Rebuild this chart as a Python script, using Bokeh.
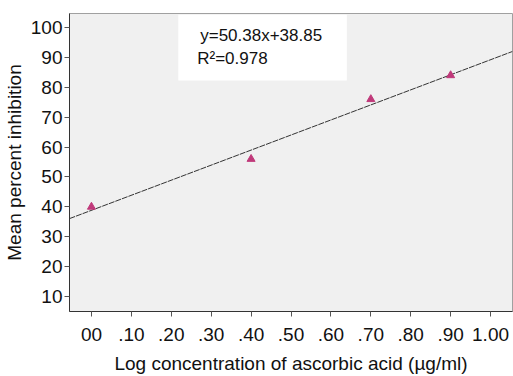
from bokeh.plotting import figure
from bokeh.models import Range1d, FixedTicker, BoxAnnotation, Label
from bokeh.embed import file_html
from bokeh.resources import INLINE

x_vals = [0.0, 0.4, 0.7, 0.9]
y_vals = [40.0, 56.0, 76.0, 84.0]
slope = 50.38
intercept = 38.85
x_ticks = [0.0, 0.1, 0.2, 0.3, 0.4, 0.5, 0.6, 0.7, 0.8, 0.9, 1.0]
x_tick_labels = ["00", ".10", ".20", ".30", ".40", ".50", ".60", ".70", ".80", ".90", "1.00"]
y_ticks = [10, 20, 30, 40, 50, 60, 70, 80, 90, 100]

FONT = "Liberation Sans"
x0, x1 = -0.055, 1.055

p = figure(width=513, height=376, output_backend="svg", toolbar_location=None,
           x_range=Range1d(x0, x1), y_range=Range1d(5, 104.7),
           min_border_left=68, min_border_right=1, min_border_top=13, min_border_bottom=65)
p.background_fill_color = "#f0f0f0"
p.border_fill_color = "white"
p.outline_line_color = "#a0a0a0"
p.grid.visible = False

p.xaxis.ticker = FixedTicker(ticks=x_ticks)
p.xaxis.major_label_overrides = {t: l for t, l in zip(x_ticks, x_tick_labels)}
p.yaxis.ticker = FixedTicker(ticks=y_ticks)
for ax in (p.xaxis, p.yaxis):
    ax.minor_tick_line_color = None
    ax.major_tick_in = 0
    ax.major_tick_out = 5
    ax.major_tick_line_color = "#555555"
    ax.axis_line_color = "#333333"
    ax.major_label_text_font = FONT
    ax.major_label_text_font_size = "19px"
    ax.major_label_text_color = "#111111"
    ax.axis_label_text_font = FONT
    ax.axis_label_text_font_size = "19px"
    ax.axis_label_text_font_style = "normal"
    ax.axis_label_text_color = "#111111"
p.xaxis.major_label_standoff = 11
p.yaxis.major_label_standoff = 2
p.xaxis.axis_label = "Log concentration of ascorbic acid (\u00b5g/ml)"
p.yaxis.axis_label = "Mean percent inhibition"
p.xaxis.axis_label_standoff = 9
p.yaxis.axis_label_standoff = 3

# regression line
p.line([x0, x1], [intercept + slope * x0, intercept + slope * x1],
       line_color="#333333", line_width=1, line_dash="6 1")

p.scatter(x_vals, y_vals, marker="triangle", size=8, color="#c0397a")

box = BoxAnnotation(left=0.2175, right=0.64, top=104.3, bottom=82.3,
                    fill_color="white", fill_alpha=1, line_color=None)
p.add_layout(box)
p.add_layout(Label(x=0.2725, y=97.3, text="y=50.38x+38.85", text_font=FONT,
                   text_font_size="17px", text_color="#111111", text_baseline="middle"))
p.add_layout(Label(x=0.265, y=89.6, text="R\u00b2=0.978", text_font=FONT,
                   text_font_size="17px", text_color="#111111", text_baseline="middle"))

open("out.html", "w").write(file_html(p, INLINE))
